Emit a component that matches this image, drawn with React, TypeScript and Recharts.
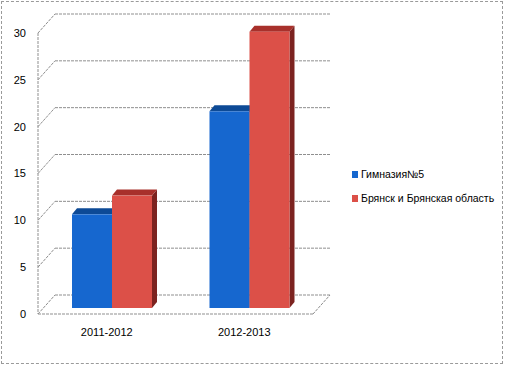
import { Bar, BarChart, CartesianGrid, XAxis, YAxis } from "recharts";

const categories = ["2011-2012", "2012-2013"];
const gymnasium = [10, 21];
const bryansk = [12, 29.5];
const yTicks = [0, 5, 10, 15, 20, 25, 30];

const seriesNames = ["Гимназия№5", "Брянск и Брянская область"];

const data = categories.map((name, i) => ({
  name,
  gym: gymnasium[i],
  bry: bryansk[i],
}));

const GRID = "#8f8f8f";
const DASH = "3 1";
const WALL_DX = 17;
const WALL_DY = 19;
const BAR_DX = 5;
const BAR_DY = 6;

const BLUE = { front: "#1667cf", top: "#0d4a96", side: "#0a3a78" };
const RED = { front: "#dc5048", top: "#a8302b", side: "#7c2320" };

const gridLine = (props: any) => {
  const { x1, y1, x2, key, y, height } = props;
  const isFloor = Math.abs(y1 - (y + height)) < 1;
  return (
    <g key={key}>
      <line x1={x1} y1={y1} x2={x1 + WALL_DX} y2={y1 - WALL_DY} stroke={GRID} strokeDasharray={DASH} />
      <line x1={x1 + WALL_DX} y1={y1 - WALL_DY} x2={x2 + WALL_DX} y2={y1 - WALL_DY} stroke={GRID} strokeDasharray={DASH} />
      {isFloor && (
        <line x1={x2} y1={y1} x2={x2 + WALL_DX} y2={y1 - WALL_DY} stroke={GRID} strokeDasharray={DASH} />
      )}
    </g>
  );
};

const makeBox = (colors: { front: string; top: string; side: string }) => (props: any) => {
  const { x, y, width, height } = props;
  if (width == null || height == null) return <g />;
  const fx = x + BAR_DX;
  const fy = y - BAR_DY;
  const top = `${fx},${fy} ${fx + BAR_DX},${fy - BAR_DY} ${fx + width + BAR_DX},${fy - BAR_DY} ${fx + width},${fy}`;
  const side = `${fx + width},${fy} ${fx + width + BAR_DX},${fy - BAR_DY} ${fx + width + BAR_DX},${fy + height - BAR_DY} ${fx + width},${fy + height}`;
  return (
    <g>
      <polygon points={side} fill={colors.side} />
      <polygon points={top} fill={colors.top} />
      <rect x={fx} y={fy} width={width} height={height} fill={colors.front} />
    </g>
  );
};

const legendColors = [BLUE.front, RED.front];

export default function App() {
  return (
    <div style={{ position: "absolute", left: 0, top: 0, width: 506, height: 366, fontFamily: "'Liberation Sans', Arial, sans-serif" }}>
      <div
        style={{
          position: "absolute",
          left: 1,
          top: 1,
          width: 502,
          height: 363,
          boxSizing: "border-box",
          border: "1px dashed #9a9a9a",
        }}
      />
      <BarChart
        width={506}
        height={366}
        data={data}
        margin={{ top: 33, right: 193, bottom: 22, left: 0 }}
        barCategoryGap={29}
        barGap={0}
      >
        <CartesianGrid vertical={false} horizontal={gridLine} />
        <XAxis
          dataKey="name"
          height={30}
          tickLine={false}
          tickSize={0}
          tickMargin={14}
          axisLine={{ stroke: GRID, strokeDasharray: DASH }}
          tick={{ fill: "#000", fontSize: 11 }}
        />
        <YAxis
          width={38}
          domain={[0, 30]}
          ticks={yTicks}
          tickLine={false}
          tickSize={6}
          tickMargin={6}
          axisLine={{ stroke: GRID, strokeDasharray: DASH }}
          tick={{ fill: "#000", fontSize: 11 }}
        />
        <Bar dataKey="gym" name={seriesNames[0]} shape={makeBox(BLUE)} isAnimationActive={false} />
        <Bar dataKey="bry" name={seriesNames[1]} shape={makeBox(RED)} isAnimationActive={false} />
      </BarChart>
      <div style={{ position: "absolute", left: 352, top: 162, fontSize: 10.5, color: "#000" }}>
        {seriesNames.map((n, i) => (
          <div key={n} style={{ display: "flex", alignItems: "center", height: 24 }}>
            <span style={{ width: 6, height: 7, background: legendColors[i], marginRight: 3 }} />
            <span>{n}</span>
          </div>
        ))}
      </div>
    </div>
  );
}
